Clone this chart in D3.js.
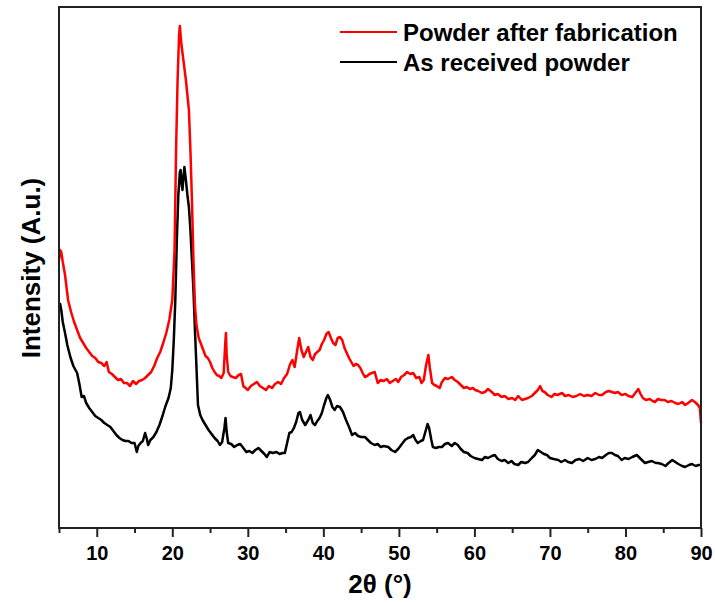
<!DOCTYPE html>
<html>
<head>
<meta charset="utf-8">
<script src="https://cdn.jsdelivr.net/npm/d3@7"></script>
<style>
  body { margin: 0; background: #fff; }
  svg text { font-family: "Liberation Sans", Arial, sans-serif; font-weight: bold; fill: #000; }
</style>
</head>
<body>
<div class="container"></div>
<script>
// XRD patterns, [2theta (deg), intensity (arb. units)]
const afterFab = [
  [5.0,268],[5.15,278],[5.3,276],[5.5,266],[5.8,253],[6.2,228],[6.6,216],[7.0,206],[7.4,198],[7.8,190],
  [8.2,185],[8.6,180],[9.0,176],[9.4,172],[9.8,170],[10.2,166],[10.6,165],[11.0,162],[11.3,166],[11.6,156],
  [12.0,154],[12.4,151],[12.8,148],[13.2,149],[13.6,145],[14.0,145],[14.4,142],[14.8,147],[15.2,144],[15.6,147],
  [16.0,148],[16.4,150],[16.8,153],[17.2,156],[17.6,162],[18.0,170],[18.4,176],[18.8,185],[19.2,195],[19.6,208],
  [20.0,228],[20.3,278],[20.5,378],[20.7,448],[20.9,493],[21.0,502],[21.15,488],[21.3,478],[21.5,466],[21.8,448],
  [22.0,433],[22.2,418],[22.4,378],[22.6,328],[22.8,268],[23.0,223],[23.2,203],[23.5,190],[23.8,184],[24.1,178],
  [24.4,172],[24.7,170],[25.0,166],[25.3,160],[25.6,156],[25.9,153],[26.2,152],[26.5,150],[26.8,155],[27.0,183],
  [27.1,195],[27.2,173],[27.4,156],[27.7,152],[28.0,151],[28.4,150],[28.8,153],[29.1,154],[29.4,142],[29.7,140],
  [30.0,138],[30.4,142],[30.8,144],[31.2,146],[31.6,142],[32.0,140],[32.4,138],[32.8,142],[33.2,140],[33.6,144],
  [34.0,146],[34.4,144],[34.8,150],[35.2,154],[35.6,164],[35.9,168],[36.2,161],[36.5,176],[36.8,190],[37.1,178],
  [37.4,171],[37.7,176],[38.0,181],[38.3,171],[38.6,168],[38.9,174],[39.2,176],[39.5,178],[39.8,184],[40.1,188],
  [40.4,194],[40.7,196],[41.0,190],[41.3,185],[41.6,183],[41.9,190],[42.2,191],[42.5,188],[42.8,180],[43.1,175],
  [43.4,170],[43.7,166],[44.0,162],[44.3,164],[44.6,163],[44.9,160],[45.2,155],[45.5,151],[45.8,152],[46.1,154],
  [46.4,155],[46.8,156],[47.2,145],[47.6,148],[48.0,147],[48.4,149],[48.8,145],[49.2,147],[49.6,149],[49.9,146],
  [50.3,151],[50.7,153],[51.1,156],[51.5,154],[51.9,155],[52.3,150],[52.7,151],[53.0,145],[53.3,148],[53.6,163],
  [53.9,173],[54.1,160],[54.4,145],[54.7,143],[55.0,142],[55.4,140],[55.7,146],[56.1,150],[56.5,149],[57.0,151],
  [57.4,148],[57.8,146],[58.2,143],[58.6,140],[59.0,141],[59.4,139],[59.8,140],[60.1,138],[60.5,137],[61.0,135],
  [61.4,136],[61.8,139],[62.3,136],[62.7,133],[63.1,134],[63.6,131],[64.0,132],[64.5,129],[65.0,130],[65.4,128],
  [65.8,132],[66.3,128],[66.7,129],[67.1,130],[67.6,132],[68.0,135],[68.4,138],[68.7,142],[69.0,137],[69.3,136],
  [69.7,133],[70.2,131],[70.6,134],[71.0,133],[71.6,135],[72.0,132],[72.5,133],[73.0,131],[73.5,132],[74.0,134],
  [74.5,132],[75.0,133],[75.5,132],[76.0,135],[76.5,133],[76.9,133],[77.4,136],[77.8,137],[78.2,136],[78.6,135],
  [79.0,136],[79.5,133],[80.0,134],[80.4,132],[80.9,131],[81.3,135],[81.7,139],[82.0,134],[82.3,130],[82.7,128],
  [83.2,129],[83.6,127],[83.9,126],[84.3,129],[84.7,128],[85.2,128],[85.6,126],[86.1,127],[86.6,125],[87.0,124],
  [87.5,126],[87.9,123],[88.3,125],[88.8,128],[89.2,126],[89.6,123],[89.85,120],[90.0,105]
];

const asReceived = [
  [5.0,220],[5.15,224],[5.3,218],[5.5,206],[5.8,195],[6.1,183],[6.5,171],[6.9,162],[7.4,155],[7.7,144],
  [8.0,131],[8.3,132],[8.6,125],[9.0,120],[9.4,116],[9.8,112],[10.2,110],[10.6,108],[11.0,105],[11.4,103],
  [11.8,101],[12.2,97],[12.6,93],[13.0,90],[13.4,88],[13.8,87],[14.2,87],[14.6,85],[15.0,85],[15.3,76],
  [15.5,82],[15.8,85],[16.1,87],[16.4,95],[16.6,90],[16.8,83],[17.1,88],[17.5,91],[17.9,96],[18.3,103],
  [18.7,112],[19.1,122],[19.5,130],[19.8,140],[20.0,158],[20.2,188],[20.4,228],[20.6,288],[20.8,333],[21.0,356],
  [21.1,358],[21.25,343],[21.35,338],[21.5,353],[21.6,361],[21.8,348],[22.0,333],[22.2,321],[22.4,298],[22.6,268],
  [22.8,238],[23.0,198],[23.2,161],[23.4,123],[23.7,113],[24.0,108],[24.4,103],[24.8,98],[25.2,94],[25.6,90],
  [26.0,87],[26.3,83],[26.6,86],[26.9,100],[27.05,110],[27.2,96],[27.4,85],[27.8,84],[28.2,81],[28.6,83],
  [29.0,84],[29.4,80],[29.8,76],[30.2,77],[30.6,75],[31.0,78],[31.4,80],[31.8,77],[32.2,74],[32.5,71],
  [32.9,76],[33.3,75],[33.8,76],[34.2,74],[34.6,75],[34.9,75],[35.2,85],[35.5,95],[35.8,96],[36.1,100],
  [36.4,106],[36.7,115],[36.9,116],[37.2,108],[37.6,103],[38.0,108],[38.3,113],[38.6,105],[38.9,103],[39.2,107],
  [39.5,110],[39.8,115],[40.1,123],[40.4,130],[40.6,133],[40.9,128],[41.2,121],[41.5,118],[41.8,122],[42.2,121],
  [42.6,116],[43.0,108],[43.4,101],[43.8,93],[44.2,95],[44.6,92],[45.0,91],[45.5,91],[45.9,88],[46.3,85],
  [46.8,83],[47.2,84],[47.6,81],[48.0,82],[48.6,81],[49.0,78],[49.5,76],[49.9,79],[50.4,84],[50.8,88],
  [51.2,90],[51.6,91],[51.9,93],[52.2,88],[52.5,85],[52.9,87],[53.2,88],[53.5,96],[53.8,104],[54.0,100],
  [54.3,88],[54.5,81],[54.9,80],[55.3,81],[55.7,81],[56.1,84],[56.5,85],[57.0,82],[57.4,85],[57.8,83],
  [58.2,79],[58.6,76],[59.1,75],[59.5,72],[60.0,70],[60.5,69],[61.0,68],[61.4,71],[61.8,70],[62.3,72],
  [62.7,73],[63.1,69],[63.6,67],[64.0,68],[64.5,65],[64.9,67],[65.3,64],[65.8,63],[66.2,66],[66.7,65],
  [67.1,66],[67.6,70],[68.0,73],[68.4,78],[68.8,76],[69.2,74],[69.6,73],[70.0,70],[70.5,69],[71.1,68],
  [71.5,66],[72.0,68],[72.4,66],[72.9,65],[73.4,68],[73.9,69],[74.4,67],[75.0,70],[75.5,68],[76.0,69],
  [76.5,71],[76.9,70],[77.4,73],[77.8,75],[78.2,75],[78.6,73],[79.0,72],[79.5,68],[79.9,70],[80.4,69],
  [80.9,71],[81.5,73],[81.9,70],[82.3,67],[82.6,65],[83.0,66],[83.5,67],[84.0,65],[84.3,65],[84.8,64],
  [85.3,62],[85.7,65],[86.2,68],[86.6,66],[87.0,64],[87.5,62],[87.9,61],[88.4,63],[88.8,64],[89.3,62],
  [89.7,63],[90.0,63]
];

const majorTicks = [10, 20, 30, 40, 50, 60, 70, 80, 90];
const minorTicks = [5, 15, 25, 35, 45, 55, 65, 75, 85];
const seriesNames = ["Powder after fabrication", "As received powder"];
const seriesColors = ["#ff0000", "#000000"];

const w = 715;
const h = 603;
const margin = {left: 59, right: 14, top: 7, bottom: 75};

const svg = d3.select(".container")
              .append("svg")
              .attr("width", w)
              .attr("height", h);

const xScale = d3.scaleLinear()
                 .domain([5, 90])
                 .range([margin.left, w - margin.right]);

const yScale = d3.scaleLinear()
                 .domain([0, 521])
                 .range([h - margin.bottom, margin.top]);

const line = d3.line()
               .x((d)=> xScale(d[0]))
               .y((d)=> yScale(d[1]));

// curves (black first so red sits on top)
[asReceived, afterFab].forEach((data, i)=>{
    svg.append("path")
       .datum(data)
       .attr("fill", "none")
       .attr("stroke", seriesColors[1 - i])
       .attr("stroke-width", 2.5)
       .attr("stroke-linejoin", "round")
       .attr("d", line);
});

// frame
const x0 = xScale.range()[0], x1 = xScale.range()[1];
const y0 = yScale.range()[0], y1 = yScale.range()[1];
svg.append("rect")
   .attr("x", x0)
   .attr("y", y1)
   .attr("width", x1 - x0)
   .attr("height", y0 - y1)
   .attr("fill", "none")
   .attr("stroke", "#222")
   .attr("stroke-width", 2);

// x axis: minor ticks then major ticks with labels
const minorAxis = d3.axisBottom(xScale)
                    .tickValues(minorTicks)
                    .tickSize(5)
                    .tickFormat("");
svg.append("g")
   .attr("transform", "translate(0," + y0 + ")")
   .call(minorAxis)
   .call(g => g.select(".domain").remove())
   .selectAll("line").attr("stroke", "#222").attr("stroke-width", 2);

const xAxis = d3.axisBottom(xScale)
                .tickValues(majorTicks)
                .tickSize(9)
                .tickPadding(9)
                .tickFormat(d3.format("d"));
const gx = svg.append("g")
   .attr("id", "x-axis")
   .attr("transform", "translate(0," + y0 + ")")
   .call(xAxis);
gx.select(".domain").remove();
gx.selectAll("line").attr("stroke", "#222").attr("stroke-width", 2);
gx.selectAll("text")
  .style("font-size", "20px")
  .attr("fill", "#000");

// axis titles
svg.append("text")
   .attr("x", (x0 + x1) / 2)
   .attr("y", 593)
   .attr("text-anchor", "middle")
   .style("font-size", "26px")
   .text("2θ (°)");

svg.append("text")
   .attr("transform", "translate(40," + 268 + ") rotate(-90)")
   .attr("text-anchor", "middle")
   .style("font-size", "26px")
   .text("Intensity (A.u.)");

// legend
const legend = svg.append("g").attr("id", "legend");
seriesNames.forEach((name, i)=>{
    const ly = 32 + i * 30;
    legend.append("line")
          .attr("x1", 340).attr("x2", 397)
          .attr("y1", ly).attr("y2", ly)
          .attr("stroke", seriesColors[i])
          .attr("stroke-width", 2);
    legend.append("text")
          .attr("x", 403)
          .attr("y", ly + 8.5)
          .style("font-size", "24px")
          .text(name);
});
</script>
</body>
</html>
